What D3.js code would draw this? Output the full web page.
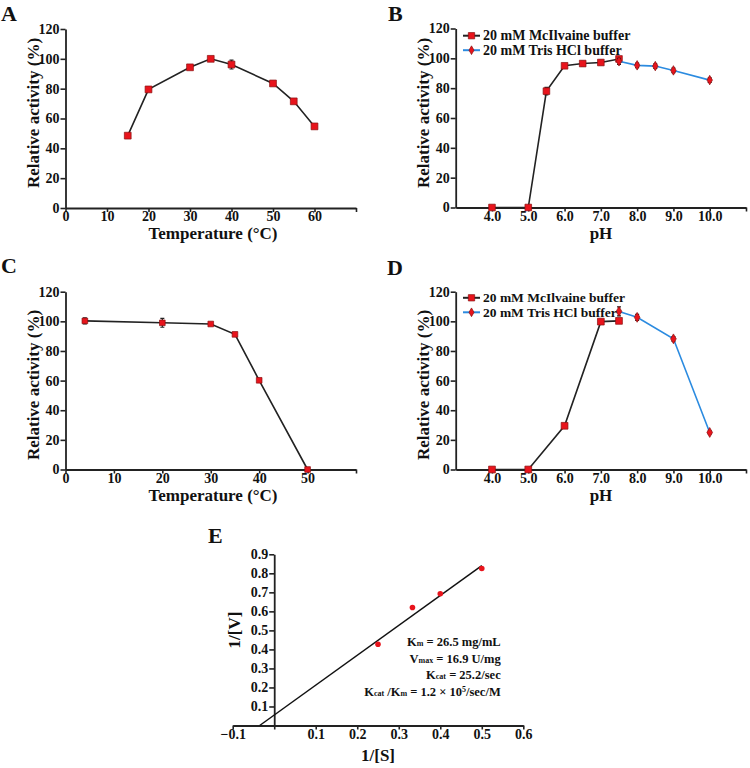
<!DOCTYPE html>
<html><head><meta charset="utf-8">
<script src="https://cdn.jsdelivr.net/npm/d3@7"></script>
<style>
body{margin:0;background:#fff;}
text{font-family:"Liberation Serif","Times New Roman",serif;font-weight:bold;fill:#111;}
</style></head>
<body><svg id="c" width="750" height="768"></svg>
<script>
// ---- data ----
const tempA = [15, 20, 30, 35, 40, 50, 55, 60];
const actA  = [48.5, 79.5, 94.3, 100, 96.2, 83.5, 71.5, 54.7];
const errA  = [0.8, 1, 1, 0.8, 3, 1, 1, 1];

const phMcB   = [4, 5, 5.5, 6, 6.5, 7, 7.5];
const actMcB  = [0, 0, 78, 95, 96.5, 97.2, 99.6];
const errMcB  = [1, 1, 2.5, 1.5, 1.5, 1.5, 1.5];
const phTrisB  = [7.5, 8, 8.5, 9, 10];
const actTrisB = [98, 95.3, 94.8, 91.9, 85.4];
const errTrisB = [2, 1.5, 1.5, 1.5, 1.5];

const tempC = [4, 20, 30, 35, 40, 50];
const actC  = [100.3, 99, 98.2, 91.2, 60.2, 0];
const errC  = [2, 3, 1, 0.8, 0.8, 0.5];

const phMcD   = [4, 5, 6, 7, 7.5];
const actMcD  = [0, 0, 29.5, 99.8, 100.3];
const errMcD  = [0.8, 0.8, 1.5, 1, 1];
const phTrisD  = [7.5, 8, 9, 10];
const actTrisD = [106.7, 102.7, 88.2, 25];
const errTrisD = [3, 2, 1.5, 1];

const invS = [0.25, 0.333, 0.4, 0.5];
const invV = [0.427, 0.62, 0.693, 0.825];
const fitX = [-0.035, 0.5];
const fitY = [0, 0.84];

const yTicksAct = [0, 20, 40, 60, 80, 100, 120];
const tempTicksA = [0, 10, 20, 30, 40, 50, 60, 70];
const tempTicksC = [0, 10, 20, 30, 40, 50, 60];
const phTicks = [4, 5, 6, 7, 8, 9, 10, 11];
const eXTicks = [-0.1, 0, 0.1, 0.2, 0.3, 0.4, 0.5, 0.6];
const eYTicks = [0.1, 0.2, 0.3, 0.4, 0.5, 0.6, 0.7, 0.8, 0.9];
const legendNames = ["20 mM McIlvaine buffer", "20 mM Tris HCl buffer"];
const kinText = [
  ["K", "m", " = 26.5 mg/mL"],
  ["V", "max", " = 16.9 U/mg"],
  ["K", "cat", " = 25.2/sec"],
  ["K", "cat", " /K", "m", " = 1.2 × 10", "5", "/sec/M"]
];

const RED = "#e8141c", DARK = "#222", BLUE = "#2b8be0";
const svg = d3.select("#c");

function panel(opts) {
  const g = svg.append("g");
  const x = d3.scaleLinear().domain(opts.xd).range(opts.xr);
  const y = d3.scaleLinear().domain(opts.yd).range(opts.yr);
  const xa = d3.axisBottom(x).tickValues(opts.xTicks).tickSize(4).tickSizeOuter(0).tickFormat(opts.xFmt);
  const ya = d3.axisLeft(y).tickValues(opts.yTicks).tickSize(5).tickSizeOuter(0).tickFormat(opts.yFmt);
  const gx = g.append("g").attr("transform", `translate(0,${y(opts.yd[0])})`).call(xa);
  const gy = g.append("g").attr("transform", `translate(${opts.yAxisX !== undefined ? x(opts.yAxisX) : opts.xr[0]},0)`).call(ya);
  [gx, gy].forEach(a => {
    a.select(".domain").attr("stroke", DARK).attr("stroke-width", 1.8);
    a.selectAll(".tick line").attr("stroke", DARK).attr("stroke-width", 1.6);
    a.selectAll("text").attr("fill", "#111")
      .style("font-size", "14px").style("font-family", '"Liberation Serif",serif').style("font-weight", "bold");
  });
  gx.selectAll("text").attr("y", 3.5);
  gy.selectAll("text").attr("x", -6);
  g.append("text").attr("x", opts.xTitleX).attr("y", opts.xTitleY).attr("text-anchor", "middle")
    .style("font-size", "17px").text(opts.xTitle);
  g.append("text").attr("transform", `translate(${opts.yTitleX},${opts.yTitleY}) rotate(-90)`)
    .attr("text-anchor", "middle").style("font-size", "17px").text(opts.yTitle);
  g.append("text").attr("x", opts.letterX).attr("y", opts.letterY).style("font-size", "22px").text(opts.letter);
  return {g, x, y};
}

function series(p, xs, ys, es, color, shape, size) {
  const data = xs.map((d, i) => ({x: d, y: ys[i], e: es[i]}));
  const line = d3.line().x(d => p.x(d.x)).y(d => p.y(d.y));
  p.g.append("path").datum(data).attr("d", line).attr("fill", "none").attr("stroke", color).attr("stroke-width", 1.6);
  p.g.selectAll(null).data(data).enter().append("path")
    .attr("d", d => `M${p.x(d.x)},${p.y(d.y - d.e)}V${p.y(d.y + d.e)}M${p.x(d.x) - 2},${p.y(d.y + d.e)}h4M${p.x(d.x) - 2},${p.y(d.y - d.e)}h4`)
    .attr("stroke", "#222").attr("stroke-width", 1.2).attr("fill", "none");
  const sym = d3.symbol().type(shape === "sq" ? d3.symbolSquare : d3.symbolDiamond).size(size);
  p.g.selectAll(null).data(data).enter().append("path")
    .attr("transform", d => `translate(${p.x(d.x)},${p.y(d.y)})`)
    .attr("d", sym).attr("fill", RED).attr("stroke", "#8a1010").attr("stroke-width", 0.7);
}

function legend(p, x0, y0, dy, fs) {
  const items = [{c: DARK, s: "sq"}, {c: BLUE, s: "di"}];
  items.forEach((it, i) => {
    const yy = y0 + i * dy;
    p.g.append("line").attr("x1", x0).attr("x2", x0 + 17).attr("y1", yy).attr("y2", yy)
      .attr("stroke", it.c).attr("stroke-width", 2);
    p.g.append("path").attr("transform", `translate(${x0 + 8.5},${yy})`)
      .attr("d", d3.symbol().type(it.s === "sq" ? d3.symbolSquare : d3.symbolDiamond).size(it.s === "sq" ? 40 : 22))
      .attr("fill", RED).attr("stroke", "#8a1010").attr("stroke-width", 0.7);
    p.g.append("text").attr("x", x0 + 20).attr("y", yy + 4.5).style("font-size", fs + "px").text(legendNames[i]);
  });
}

const fmtInt = d3.format("d");
const fmtPh = v => (v >= 4 && v <= 10) ? d3.format(".1f")(v) : "";
const fmtTA = v => v <= 60 ? fmtInt(v) : "";
const fmtTC = v => v <= 50 ? fmtInt(v) : "";

// Panel A
const pA = panel({xd: [0, 70], xr: [65.5, 356], yd: [0, 120], yr: [208, 29],
  xTicks: tempTicksA, xFmt: fmtTA, yTicks: yTicksAct, yFmt: fmtInt,
  xTitle: "Temperature (°C)", xTitleX: 213, xTitleY: 239,
  yTitle: "Relative activity (%)", yTitleX: 39, yTitleY: 113, letter: "A", letterX: 1, letterY: 21});
series(pA, tempA, actA, errA, DARK, "sq", 46);

// Panel B
const pB = panel({xd: [3, 11], xr: [455.7, 746], yd: [0, 120], yr: [207.5, 28.5],
  xTicks: phTicks, xFmt: fmtPh, yTicks: yTicksAct, yFmt: fmtInt,
  xTitle: "pH", xTitleX: 601, xTitleY: 239,
  yTitle: "Relative activity (%)", yTitleX: 429, yTitleY: 113, letter: "B", letterX: 388, letterY: 21});
series(pB, phMcB, actMcB, errMcB, DARK, "sq", 44);
series(pB, phTrisB, actTrisB, errTrisB, BLUE, "di", 26);
legend(pB, 463, 35.7, 14.5, 14);

// Panel C
const pC = panel({xd: [0, 60], xr: [65.5, 356], yd: [0, 120], yr: [469.5, 291.7],
  xTicks: tempTicksC, xFmt: fmtTC, yTicks: yTicksAct, yFmt: fmtInt,
  xTitle: "Temperature (°C)", xTitleX: 213, xTitleY: 501,
  yTitle: "Relative activity (%)", yTitleX: 39, yTitleY: 385, letter: "C", letterX: 1, letterY: 273});
series(pC, tempC, actC, errC, DARK, "sq", 32);

// Panel D
const pD = panel({xd: [3, 11], xr: [455.7, 746], yd: [0, 120], yr: [469.5, 291.7],
  xTicks: phTicks, xFmt: fmtPh, yTicks: yTicksAct, yFmt: fmtInt,
  xTitle: "pH", xTitleX: 601, xTitleY: 501,
  yTitle: "Relative activity (%)", yTitleX: 429, yTitleY: 385, letter: "D", letterX: 387, letterY: 275});
series(pD, phMcD, actMcD, errMcD, DARK, "sq", 46);
series(pD, phTrisD, actTrisD, errTrisD, BLUE, "di", 28);
legend(pD, 463, 297.8, 14.5, 13.5);

// Panel E
const pE = panel({xd: [-0.1, 0.6], xr: [232.7, 523.3], yd: [0, 0.9], yr: [725.5, 554.3], yAxisX: 0,
  xTicks: eXTicks, xFmt: v => Math.abs(v) < 1e-9 ? "" : d3.format(".1f")(v), yTicks: eYTicks, yFmt: d3.format(".1f"),
  xTitle: "1/[S]", xTitleX: 378, xTitleY: 761,
  yTitle: "1/[V]", yTitleX: 240, yTitleY: 630, letter: "E", letterX: 208, letterY: 543});
pE.g.append("line").attr("x1", pE.x(fitX[0])).attr("y1", pE.y(fitY[0])).attr("x2", pE.x(fitX[1])).attr("y2", pE.y(fitY[1]))
  .attr("stroke", "#111").attr("stroke-width", 1.5);
pE.g.selectAll(null).data(invS.map((d, i) => [d, invV[i]])).enter().append("circle")
  .attr("cx", d => pE.x(d[0])).attr("cy", d => pE.y(d[1])).attr("r", 2.8).attr("fill", RED);
const kinY = [646, 662.5, 679, 695.5];
kinText.forEach((parts, i) => {
  const t = pE.g.append("text").attr("x", 500.7).attr("y", kinY[i]).attr("text-anchor", "end").style("font-size", "12.5px");
  parts.forEach((s, j) => {
    const isSup = (i === 3 && j === 5);
    const isSub = (j === 1 || j === 3) && !isSup;
    const sp = t.append("tspan").text(s);
    if (isSup) sp.attr("baseline-shift", "super").style("font-size", "8px");
    else if (isSub) sp.style("font-size", "8px");
  });
});
</script></body></html>
